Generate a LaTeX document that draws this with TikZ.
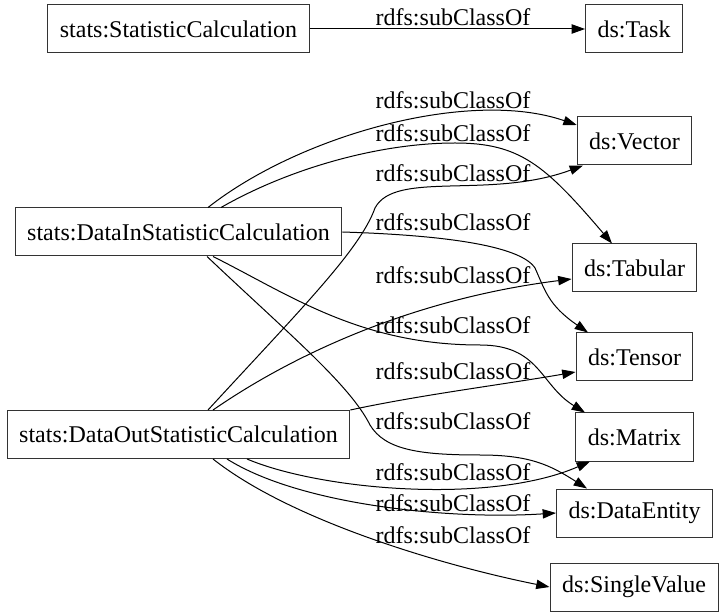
\documentclass[tikz,border=0pt]{standalone}
\usepackage{fontspec}
\setmainfont{Liberation Serif}
\usetikzlibrary{arrows.meta,calc}
\begin{document}
\begin{tikzpicture}[x=0.75pt,y=-0.75pt,line width=0.75pt,
  font=\fontsize{18}{22}\selectfont,>={Triangle[length=10pt,width=7pt]},
  box/.style={draw=black!80,rectangle,minimum height=36pt,inner xsep=9pt,inner ysep=0pt},
  lbl/.style={inner sep=0pt},
  isa/.style={->}]
\useasboundingbox (0,0) rectangle (721,616);
\node[box] (sc) at (178.5,29) {stats:StatisticCalculation};
\node[box] (task) at (634,29) {ds:Task};
\node[box] (vec) at (634.5,141) {ds:Vector};
\node[box] (din) at (178.5,232) {stats:DataInStatisticCalculation};
\node[box] (tab) at (634.5,268) {ds:Tabular};
\node[box] (ten) at (634.5,357) {ds:Tensor};
\node[box] (dout) at (178.5,434.5) {stats:DataOutStatisticCalculation};
\node[box] (mat) at (634.5,437) {ds:Matrix};
\node[box] (dent) at (634.5,513) {ds:DataEntity};
\node[box] (sv) at (634,587) {ds:SingleValue};
% subClassOf edges
\draw[isa] (sc) -- (task);
\draw[isa] ($(din.north)+(29.5,0)$) .. controls (300,135) and (470,88) .. ($(vec.west)+(0,-16)$);
\draw[isa] ($(din.north)+(42.5,0)$) .. controls (290,168) and (380,143) .. (455,143)
  .. controls (520,143) and (545,165) .. ($(tab.north)+(-22.5,0)$);
\draw[isa] ($(dout.north)+(29.5,0)$) .. controls (300,310) and (360,250) .. (375,208)
  .. controls (395,170) and (490,200) .. ($(vec.south)+(-51.5,0)$);
\draw[isa] (din.east) .. controls (440,235) and (520,245) .. (535,268)
  .. controls (545,290) and (548,305) .. ($(ten.north)+(-46.5,0)$);
\draw[isa] ($(dout.north)+(34.5,0)$) .. controls (300,350) and (420,298) .. ($(tab.west)+(0,11)$);
\draw[isa] ($(din.south)+(34.5,0)$) .. controls (290,295) and (360,345) .. (480,345)
  .. controls (540,345) and (540,385) .. ($(mat.north)+(-49.5,0)$);
\draw[isa] (dout.north east) .. controls (420,395) and (500,385) .. ($(ten.west)+(0,15)$);
\draw[isa] ($(din.south)+(28.5,0)$) .. controls (290,335) and (350,385) .. (370,425)
  .. controls (385,450) and (420,455) .. (480,455)
  .. controls (530,455) and (550,465) .. ($(dent.north)+(-47.5,0)$);
\draw[isa] ($(dout.south)+(68.5,0)$) .. controls (320,490) and (490,505) .. ($(mat.south)+(-44.5,0)$);
\draw[isa] ($(dout.south)+(48.5,0)$) .. controls (300,505) and (450,520) .. (dent.west);
\draw[isa] ($(dout.south)+(34.5,0)$) .. controls (290,520) and (440,565) .. (sv.west);
% edge labels
\node[lbl] (l1) at (453,17) {rdfs:subClassOf};
\node[lbl] (l2) at (453,100) {rdfs:subClassOf};
\node[lbl] (l3) at (453,133) {rdfs:subClassOf};
\node[lbl] (l4) at (453,173) {rdfs:subClassOf};
\node[lbl] (l5) at (453,222) {rdfs:subClassOf};
\node[lbl] (l6) at (453,275) {rdfs:subClassOf};
\node[lbl] (l7) at (453,325) {rdfs:subClassOf};
\node[lbl] (l8) at (453,371) {rdfs:subClassOf};
\node[lbl] (l9) at (453,421) {rdfs:subClassOf};
\node[lbl] (l10) at (453,472) {rdfs:subClassOf};
\node[lbl] (l11) at (453,503) {rdfs:subClassOf};
\node[lbl] (l12) at (453,535) {rdfs:subClassOf};
\end{tikzpicture}
\end{document}
